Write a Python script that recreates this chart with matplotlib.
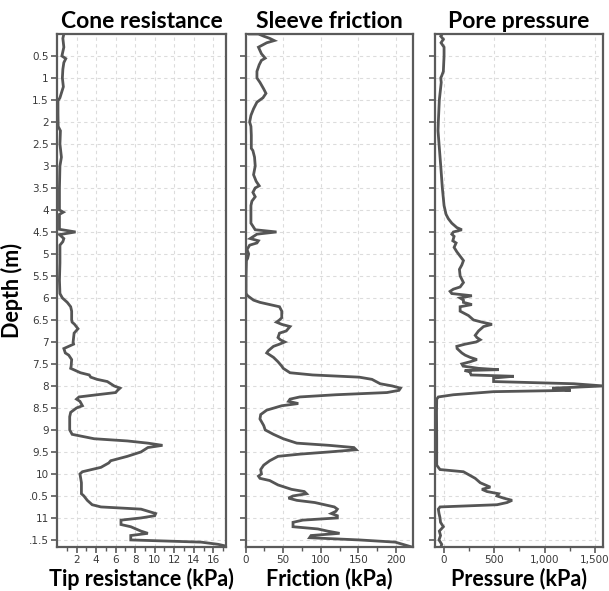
"""Three-panel CPT log: cone resistance, sleeve friction and pore pressure vs depth."""

import matplotlib

matplotlib.use("Agg")
import matplotlib.pyplot as plt
from matplotlib.ticker import MultipleLocator, FuncFormatter

LINE = "#555555"
SPINE = "#5a5a5a"
GRID = "#dcdcdc"
TICK_TEXT = "#3a3a3a"
TITLE_FONT = ["Lato", "DejaVu Sans"]

# Cone resistance (kPa) against depth (m)
cone_depth = [0.0, 0.1, 0.3, 0.5, 0.56, 0.65, 0.8, 1.0, 1.2, 1.45, 1.52, 1.8, 2.1, 2.2, 2.5, 2.8, 3.0,
              3.5, 4.0, 4.05, 4.1, 4.44, 4.5, 4.56, 4.65, 4.72, 4.8, 5.2, 5.6, 5.9, 6.0, 6.1, 6.2,
              6.3, 6.5, 6.55, 6.6, 6.7, 6.8, 7.0, 7.05, 7.15, 7.25, 7.3, 7.4, 7.55, 7.6, 7.65, 7.7,
              7.75, 7.8, 7.85, 7.9, 7.95, 8.0, 8.05, 8.1, 8.15, 8.2, 8.25, 8.3, 8.35, 8.45, 8.5, 8.6,
              8.7, 9.0, 9.1, 9.2, 9.25, 9.3, 9.35, 9.4, 9.5, 9.6, 9.7, 9.75, 9.85, 9.95, 10.0, 10.2,
              10.45, 10.5, 10.6, 10.7, 10.75, 10.8, 10.9, 10.95, 11.0, 11.05, 11.15, 11.2, 11.3,
              11.35, 11.4, 11.5, 11.55, 11.6, 11.65]
cone_value = [0.7, 0.6, 0.7, 0.5, 0.9, 0.7, 0.6, 0.55, 0.65, 0.3, 0.1, 0.1, 0.12, 0.35, 0.3, 0.45,
              0.3, 0.25, 0.25, 0.65, 0.25, 0.25, 1.9, 0.25, 0.7, 0.6, 0.3, 0.3, 0.25, 0.3, 0.55, 1.05,
              1.4, 1.5, 1.5, 1.55, 1.8, 2.15, 1.75, 1.65, 1.7, 0.7, 0.85, 1.2, 1.5, 1.45, 1.4, 1.9,
              2.4, 3.3, 3.45, 4.1, 5.15, 5.5, 5.85, 6.45, 6.2, 6.0, 4.1, 2.25, 2.0, 2.35, 2.6, 2.0,
              1.4, 1.3, 1.3, 1.55, 3.8, 7.2, 9.3, 10.8, 9.3, 8.6, 7.2, 5.5, 5.3, 4.5, 2.6, 2.35, 2.5,
              2.5, 2.75, 3.1, 3.6, 4.5, 8.6, 10.1, 10.0, 8.6, 6.55, 6.55, 7.55, 8.6, 9.3, 7.55, 7.55,
              14.75, 16.5, 17.5]

# Sleeve friction (kPa) against depth (m)
friction_depth = [0.0, 0.0, 0.05, 0.1, 0.15, 0.2, 0.3, 0.45, 0.55, 0.6, 0.7, 0.85, 1.0, 1.1, 1.25,
                  1.35, 1.45, 1.55, 1.7, 1.85, 2.0, 2.1, 2.3, 2.6, 2.65, 2.8, 3.0, 3.2, 3.35, 3.45,
                  3.5, 3.6, 3.7, 3.8, 3.9, 4.3, 4.45, 4.5, 4.55, 4.65, 4.7, 4.75, 4.8, 4.9, 5.0, 5.1,
                  5.15, 5.5, 5.9, 5.95, 6.05, 6.1, 6.2, 6.3, 6.45, 6.5, 6.55, 6.6, 6.65, 6.75, 6.8,
                  6.9, 6.95, 7.0, 7.05, 7.1, 7.2, 7.25, 7.35, 7.45, 7.55, 7.6, 7.7, 7.75, 7.8, 7.85,
                  7.95, 8.0, 8.05, 8.1, 8.15, 8.2, 8.25, 8.3, 8.35, 8.4, 8.45, 8.55, 8.65, 8.75, 8.9,
                  9.0, 9.1, 9.2, 9.3, 9.35, 9.4, 9.45, 9.5, 9.55, 9.6, 9.7, 9.8, 9.9, 10.0, 10.05,
                  10.1, 10.15, 10.25, 10.35, 10.4, 10.45, 10.5, 10.55, 10.6, 10.65, 10.75, 10.8,
                  10.85, 10.9, 10.95, 11.0, 11.05, 11.1, 11.2, 11.25, 11.3, 11.35, 11.4, 11.45, 11.5,
                  11.55, 11.65]
friction_value = [5, 17, 24, 32, 38, 28, 17, 21, 26, 21, 18, 15, 15, 19, 24, 27, 23, 15, 10.5, 7,
                  5.3, 7, 7.5, 7.5, 9.6, 11.8, 12.7, 10.5, 14, 18, 12.7, 9.6, 12.7, 8.3, 7, 7, 12.7,
                  41, 15, 6, 17, 15, 5.3, 1.8, 4, 2.6, 1, 0.5, 0.5, 2.6, 10.5, 19, 45, 48, 48, 45, 41,
                  48, 59, 54, 45, 43, 46, 52, 45, 37, 30, 28, 37, 43, 48, 50, 59, 89, 151, 168, 179,
                  195, 206, 204, 188, 120, 72, 59, 57, 70, 48, 28, 20, 19, 24, 26, 37, 50, 68, 111,
                  144, 147, 111, 72, 43, 32, 24, 20, 21, 17, 19, 32, 43, 61, 78, 81, 63, 57, 68, 92,
                  118, 122, 120, 114, 122, 122, 76, 63, 63, 96, 109, 125, 87, 85, 151, 199, 219]

# Pore pressure (kPa) against depth (m)
pore_depth = [0.0, 0.05, 0.12, 0.2, 0.3, 0.5, 0.85, 0.95, 1.0, 1.1, 1.5, 2.0, 2.2, 2.5, 3.0, 3.5,
              3.9, 4.1, 4.2, 4.3, 4.4, 4.45, 4.5, 4.55, 4.6, 4.7, 4.75, 4.85, 4.95, 5.05, 5.15,
              5.25, 5.35, 5.5, 5.65, 5.75, 5.8, 5.85, 5.9, 5.95, 6.0, 6.05, 6.1, 6.15, 6.2, 6.3,
              6.4, 6.5, 6.55, 6.6, 6.65, 6.75, 6.85, 6.9, 6.95, 7.0, 7.05, 7.1, 7.15, 7.25, 7.3,
              7.35, 7.4, 7.45, 7.5, 7.55, 7.6, 7.63, 7.65, 7.68, 7.7, 7.75, 7.78, 7.82, 7.9, 7.95,
              8.0, 8.03, 8.05, 8.07, 8.1, 8.13, 8.2, 8.25, 8.3, 8.6, 9.2, 9.8, 9.85, 9.9, 9.95,
              10.1, 10.2, 10.3, 10.35, 10.4, 10.45, 10.5, 10.55, 10.6, 10.65, 10.7, 10.75, 10.8,
              10.9, 11.0, 11.1, 11.2, 11.3, 11.4, 11.5, 11.6, 11.65]
pore_value = [-17, -33, -7, -30, 0, 0, -7, -23, -33, -28, -47, -57, -60, -50, -33, -17, 0, 20, 43,
              77, 127, 177, 93, 77, 100, 87, 120, 100, 127, 160, 193, 177, 153, 160, 193, 160, 93,
              60, 77, 277, 160, 193, 193, 277, 160, 160, 243, 293, 377, 477, 393, 343, 310, 327,
              360, 320, 210, 127, 130, 177, 210, 260, 327, 260, 177, 190, 343, 543, 205, 260, 260,
              270, 693, 493, 493, 1293, 1587, 1293, 1077, 1143, 1260, 493, 93, -57, -73, -75, -73,
              -73, -57, -40, 193, 310, 360, 460, 377, 427, 543, 527, 593, 677, 627, 527, -40, -57,
              -50, -40, -35, -7, -47, -35, -50, -23, -30]

depth_ticks = [0.5 * i for i in range(1, 24)]
# the leading digit of the two deepest labels is cut off in the source figure
clipped_labels = {10.5: ".0.5", 11.5: ".1.5"}


def depth_label(v, _pos):
    return clipped_labels.get(round(v, 1), f"{v:g}")


def thousands(v, _pos):
    return f"{v:,.0f}"


plt.rcParams.update(
    {
        "font.family": "DejaVu Sans",
        "xtick.labelsize": 7.5,
        "ytick.labelsize": 7.5,
        "xtick.color": SPINE,
        "ytick.color": SPINE,
        "xtick.labelcolor": TICK_TEXT,
        "ytick.labelcolor": TICK_TEXT,
    }
)

fig = plt.figure(figsize=(6.09, 5.91), dpi=100)
bottom, height = 0.0745, 0.868
ax_cone = fig.add_axes([0.0936, bottom, 0.2775, height])
ax_fric = fig.add_axes([0.4034, bottom, 0.2752, height])
ax_pore = fig.add_axes([0.7143, bottom, 0.2764, height])

panels = [
    (ax_cone, cone_value, cone_depth, "Cone resistance", "Tip resistance (kPa)", (0, 17.3), 2, 1),
    (ax_fric, friction_value, friction_depth, "Sleeve friction", "Friction (kPa)", (0, 223), 50, 25),
    (ax_pore, pore_value, pore_depth, "Pore pressure", "Pressure (kPa)", (-90, 1585), 500, 250),
]

for ax, xs, ys, title, xlabel, xlim, major, minor in panels:
    ax.plot(xs, ys, color=LINE, linewidth=2.0, solid_joinstyle="miter")
    ax.set_xlim(*xlim)
    ax.set_ylim(11.66, 0.0)
    ax.xaxis.set_major_locator(MultipleLocator(major))
    ax.xaxis.set_minor_locator(MultipleLocator(minor))
    ax.set_yticks(depth_ticks)
    ax.grid(True, which="major", color=GRID, linewidth=0.8, linestyle=(0, (3, 3)))
    ax.set_axisbelow(True)
    for spine in ax.spines.values():
        spine.set_color(SPINE)
        spine.set_linewidth(1.6)
    ax.tick_params(axis="both", which="major", length=4, width=1.2, pad=2)
    ax.tick_params(axis="x", which="minor", length=3, width=1.0)
    ax.set_title(title, family=TITLE_FONT, fontsize=16.5, fontweight="bold", pad=4)
    ax.set_xlabel(xlabel, family=TITLE_FONT, fontsize=15.5, fontweight="bold", labelpad=2)

ax_cone.yaxis.set_major_formatter(FuncFormatter(depth_label))
ax_cone.set_xticks([1, 3, 5, 7, 9, 11, 13, 15, 17], minor=True)
ax_cone.set_xticks([2, 4, 6, 8, 10, 12, 14, 16])
ax_cone.set_ylabel("Depth (m)", family=TITLE_FONT, fontsize=15.5, fontweight="bold", labelpad=4)
ax_fric.tick_params(axis="y", labelleft=False)
ax_pore.tick_params(axis="y", labelleft=False)
ax_pore.xaxis.set_major_formatter(FuncFormatter(thousands))

fig.savefig("out.png", dpi=100)
plt.close(fig)
